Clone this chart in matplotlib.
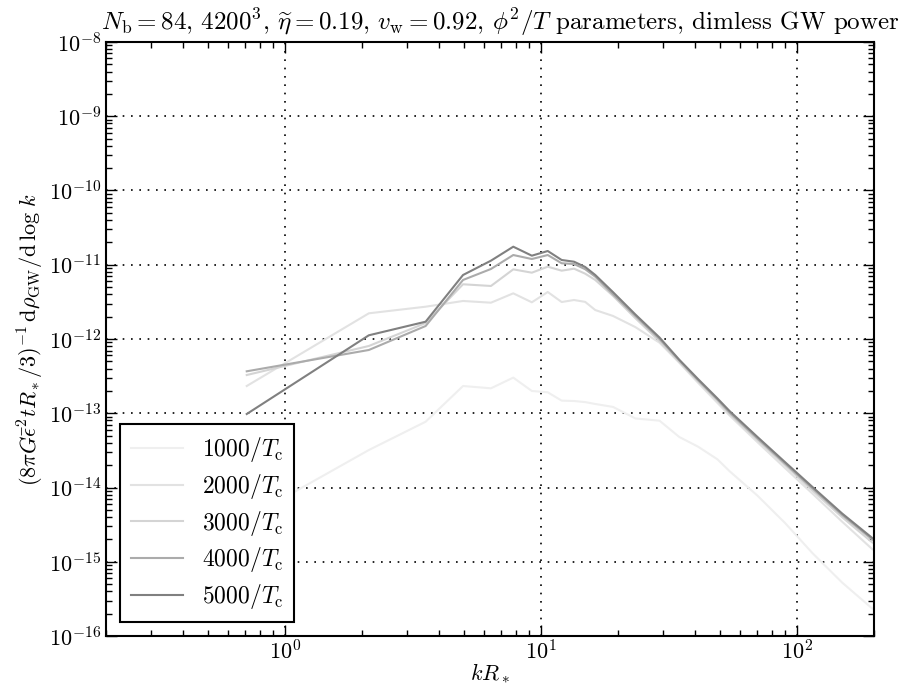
import numpy as np
import matplotlib
matplotlib.use("Agg")
import matplotlib.pyplot as plt
from matplotlib.ticker import NullFormatter

plt.rcParams["mathtext.fontset"] = "cm"
plt.rcParams["font.family"] = "serif"
plt.rcParams["font.serif"] = ["cmr10", "DejaVu Serif"]
plt.rcParams["axes.formatter.use_mathtext"] = True

# k R_* sample points
k = [0.71, 2.13, 3.55, 4.97, 6.39, 7.81, 9.23, 10.65, 12.07, 13.49, 14.91,
     16.33, 19.17, 23.43, 29.11, 34.79, 41.18, 49.0, 54.67, 70.29, 90.17,
     115.0, 150.5, 197.4]

# log10 of the dimensionless GW power, one list per time
log_p1000 = [-14.42, -13.495, -13.114, -12.633, -12.664, -12.52, -12.70, -12.718,
             -12.83, -12.835, -12.85, -12.875, -12.915, -13.07, -13.10, -13.32,
             -13.45, -13.62, -13.78, -14.11, -14.48, -14.88, -15.28, -15.63]
log_p2000 = [-12.633, -11.654, -11.565, -11.488, -11.511, -11.385, -11.506, -11.367,
             -11.502, -11.475, -11.50, -11.61, -11.69, -11.84, -12.05, -12.32,
             -12.59, -12.86, -13.03, -13.39, -13.74, -14.08, -14.46, -14.83]
log_p3000 = [-12.485, -12.094, -11.785, -11.263, -11.286, -11.062, -11.107, -11.026,
             -11.08, -11.053, -11.12, -11.205, -11.42, -11.72, -12.03, -12.31,
             -12.57, -12.83, -13.01, -13.36, -13.70, -14.04, -14.40, -14.74]
log_p4000 = [-12.435, -12.148, -11.825, -11.205, -11.057, -10.869, -10.923, -10.869,
             -10.98, -10.99, -11.06, -11.161, -11.40, -11.69, -12.00, -12.29,
             -12.555, -12.815, -12.99, -13.34, -13.68, -14.01, -14.37, -14.70]
log_p5000 = [-13.01, -11.95, -11.767, -11.138, -10.945, -10.757, -10.878, -10.815,
             -10.936, -10.959, -11.03, -11.138, -11.37, -11.67, -11.98, -12.28,
             -12.54, -12.80, -12.97, -13.32, -13.66, -13.99, -14.35, -14.68]

times = [1000, 2000, 3000, 4000, 5000]
series = [log_p1000, log_p2000, log_p3000, log_p4000, log_p5000]
colours = ["#efefef", "#e2e2e2", "#d4d4d4", "#ababab", "#808080"]

fig = plt.figure(figsize=(9.13, 6.87), dpi=100, facecolor="white")
ax = fig.add_axes([0.116, 0.0742, 0.841, 0.8647])

for t, logp, c in zip(times, series, colours):
    ax.loglog(k, np.power(10.0, logp), color=c, lw=1.5,
              label=r"$%d/T_\mathrm{c}$" % t)

ax.set_xlim(0.2, 200)
ax.set_ylim(1e-16, 1e-8)
ax.xaxis.set_minor_formatter(NullFormatter())
ax.yaxis.set_minor_formatter(NullFormatter())
ax.grid(True, which="major", color="k", linestyle=(0, (1, 4)), linewidth=1.2)
ax.tick_params(which="both", direction="in", top=True, right=True, labelsize=16)
ax.tick_params(which="major", length=8, width=1)
ax.tick_params(which="minor", length=4, width=1)
ax.tick_params(axis="x", pad=2)
for s in ax.spines.values():
    s.set_linewidth(1.5)

ax.set_xlabel(r"$kR_*$", fontsize=16, labelpad=-1)
ax.set_ylabel(r"$(8\pi G\bar{\epsilon}^2 t R_*/3)^{-1}\,\mathrm{d}\rho_\mathrm{GW}/\mathrm{d}\,\log\,k$",
              fontsize=16, labelpad=2)
ax.set_title(r"$N_\mathrm{b}=84$, $4200^3$, $\widetilde{\eta}=0.19$, $v_\mathrm{w}=0.92$, "
             r"$\phi^2/T$ parameters, dimless GW power", fontsize=18, pad=9, x=0.514)

leg = ax.legend(loc="lower left", fontsize=17, fancybox=False, framealpha=1,
                edgecolor="k", handlelength=2.2, borderpad=0.45, labelspacing=0.33,
                borderaxespad=0.6)
leg.get_frame().set_linewidth(1.5)

fig.savefig("out.png", dpi=100, facecolor="white")
